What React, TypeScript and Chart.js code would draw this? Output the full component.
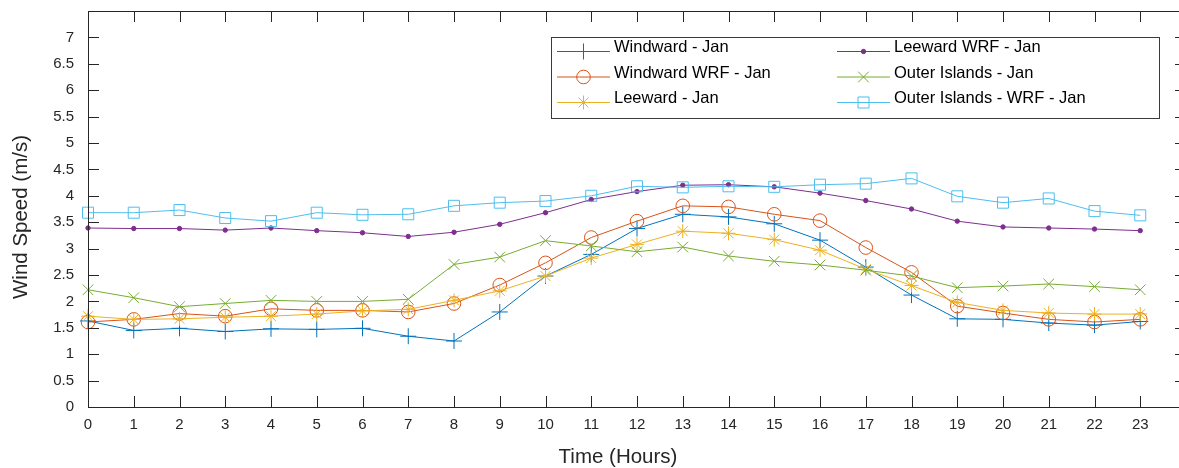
import React, { useEffect, useRef } from 'react';
import { Chart, registerables } from 'chart.js';
import { drawPoint } from 'chart.js/helpers';

Chart.register(...registerables);

const hours = [0, 1, 2, 3, 4, 5, 6, 7, 8, 9, 10, 11, 12, 13, 14, 15, 16, 17, 18, 19, 20, 21, 22, 23];
const yTicks = [0, 0.5, 1, 1.5, 2, 2.5, 3, 3.5, 4, 4.5, 5, 5.5, 6, 6.5, 7, 7.5];

const windward = [1.63, 1.45, 1.49, 1.43, 1.48, 1.47, 1.49, 1.34, 1.25, 1.80, 2.48, 2.89, 3.38, 3.65, 3.60, 3.47, 3.16, 2.65, 2.12, 1.67, 1.66, 1.59, 1.55, 1.62];
const windwardWRF = [1.61, 1.66, 1.77, 1.72, 1.86, 1.83, 1.83, 1.80, 1.96, 2.31, 2.73, 3.21, 3.52, 3.81, 3.79, 3.65, 3.53, 3.02, 2.55, 1.91, 1.78, 1.66, 1.61, 1.66];
const leeward = [1.72, 1.66, 1.67, 1.70, 1.72, 1.76, 1.82, 1.85, 2.02, 2.20, 2.48, 2.82, 3.08, 3.33, 3.29, 3.17, 2.97, 2.61, 2.30, 1.98, 1.83, 1.78, 1.76, 1.76];
const leewardWRF = [3.39, 3.38, 3.38, 3.35, 3.39, 3.34, 3.30, 3.23, 3.31, 3.46, 3.68, 3.93, 4.08, 4.20, 4.21, 4.17, 4.05, 3.91, 3.75, 3.52, 3.41, 3.39, 3.37, 3.34];
const outerIslands = [2.22, 2.07, 1.90, 1.96, 2.02, 2.00, 2.00, 2.04, 2.70, 2.84, 3.15, 3.05, 2.94, 3.03, 2.86, 2.76, 2.69, 2.59, 2.48, 2.26, 2.29, 2.33, 2.28, 2.22];
const outerIslandsWRF = [3.68, 3.68, 3.73, 3.58, 3.52, 3.68, 3.64, 3.65, 3.81, 3.87, 3.90, 4.00, 4.18, 4.16, 4.18, 4.17, 4.21, 4.23, 4.33, 3.99, 3.87, 3.95, 3.71, 3.63];

const seriesNames = [
  'Windward - Jan',
  'Windward WRF - Jan',
  'Leeward - Jan',
  'Leeward WRF - Jan',
  'Outer Islands - Jan',
  'Outer Islands - WRF - Jan',
];
const seriesValues = [windward, windwardWRF, leeward, leewardWRF, outerIslands, outerIslandsWRF];
const seriesColors = ['#0072BD', '#D95319', '#EDB120', '#7E2F8E', '#77AC30', '#4DBEEE'];
const seriesMarkers = ['cross', 'circle', 'star', 'circle', 'crossRot', 'rect'];
const seriesMarkerRadius = [8, 6.8, 7, 2.2, 7.5, 7.8];
const seriesMarkerFilled = [false, false, false, true, false, false];

const xTitle = 'Time (Hours)';
const yTitle = 'Wind Speed (m/s)';

const FONT = '"Liberation Sans", Arial, Helvetica, sans-serif';
const AXIS_COLOR = '#262626';

const decorPlugin = {
  id: 'decor',
  afterDraw(chart: any) {
    const { ctx, chartArea: a, scales } = chart;
    const xs = scales.x;
    const ys = scales.y;
    ctx.save();
    ctx.strokeStyle = AXIS_COLOR;
    ctx.lineWidth = 1;
    // axes box (its right side falls just outside the visible picture, as in the original)
    ctx.beginPath();
    ctx.rect(Math.round(a.left) + 0.5, Math.round(a.top) + 0.5, Math.round(a.right - a.left), Math.round(a.bottom - a.top));
    ctx.stroke();
    // inward ticks
    const tl = 11;
    ctx.beginPath();
    for (const h of hours) {
      const px = Math.round(xs.getPixelForValue(h)) + 0.5;
      ctx.moveTo(px, a.bottom);
      ctx.lineTo(px, a.bottom - tl);
      ctx.moveTo(px, a.top);
      ctx.lineTo(px, a.top + tl);
    }
    for (const v of yTicks) {
      const py = Math.round(ys.getPixelForValue(v)) + 0.5;
      ctx.moveTo(a.left, py);
      ctx.lineTo(a.left + tl, py);
      ctx.moveTo(a.right, py);
      ctx.lineTo(a.right - tl, py);
    }
    ctx.stroke();

    // axis titles
    ctx.fillStyle = AXIS_COLOR;
    ctx.font = `20.5px ${FONT}`;
    ctx.textAlign = 'center';
    ctx.textBaseline = 'middle';
    ctx.fillText(xTitle, 618, 457);
    ctx.save();
    ctx.translate(21, 217);
    ctx.rotate(-Math.PI / 2);
    ctx.fillText(yTitle, 0, 0);
    ctx.restore();

    // legend
    const bx = 551;
    const by = 37;
    const bw = 608;
    const bh = 81;
    ctx.fillStyle = '#ffffff';
    ctx.fillRect(bx, by, bw, bh);
    ctx.strokeStyle = '#3a3a3a';
    ctx.lineWidth = 1;
    ctx.strokeRect(bx + 0.5, by + 0.5, bw, bh);
    const colSample = [[557, 610], [837, 890]];
    const colText = [614, 894];
    const rows = [51.5, 77, 102.5];
    ctx.font = `16.5px ${FONT}`;
    ctx.textAlign = 'left';
    ctx.textBaseline = 'middle';
    for (let i = 0; i < seriesNames.length; i++) {
      const col = Math.floor(i / 3);
      const row = i % 3;
      const y = rows[row];
      const [x0, x1] = colSample[col];
      const color = seriesColors[i];
      ctx.strokeStyle = color;
      ctx.lineWidth = 1;
      ctx.beginPath();
      ctx.moveTo(x0, y);
      ctx.lineTo(x1, y);
      ctx.stroke();
      ctx.fillStyle = seriesMarkerFilled[i] ? color : 'rgba(0,0,0,0)';
      drawPoint(ctx, {
        pointStyle: seriesMarkers[i],
        radius: seriesMarkerRadius[i],
        rotation: 0,
        borderWidth: 1,
      } as any, (x0 + x1) / 2, y);
      ctx.fillStyle = '#000000';
      ctx.fillText(seriesNames[i], colText[col], y - 4);
    }
    ctx.restore();
  },
};

export default function App() {
  const canvasRef = useRef<HTMLCanvasElement | null>(null);

  useEffect(() => {
    document.body.style.margin = '0';
    const canvas = canvasRef.current;
    if (!canvas) return;
    const datasets = seriesNames.map((name, i) => ({
      label: name,
      data: seriesValues[i].map((v, j) => ({ x: hours[j], y: v })),
      borderColor: seriesColors[i],
      backgroundColor: seriesColors[i],
      borderWidth: 1,
      pointStyle: seriesMarkers[i] as any,
      pointRadius: seriesMarkerRadius[i],
      pointHoverRadius: seriesMarkerRadius[i],
      pointBorderWidth: 1,
      pointBorderColor: seriesColors[i],
      pointBackgroundColor: seriesMarkerFilled[i] ? seriesColors[i] : 'rgba(0,0,0,0)',
      tension: 0,
      fill: false,
      clip: false as any,
      order: seriesNames.length - 1 - i,
    }));

    const chart = new Chart(canvas, {
      type: 'line',
      data: { datasets },
      options: {
        animation: false,
        responsive: false,
        maintainAspectRatio: false,
        devicePixelRatio: 1,
        layout: { padding: { top: 11, right: 0, left: 0, bottom: 0 } },
        plugins: {
          legend: { display: false },
          tooltip: { enabled: false },
          title: { display: false },
        },
        scales: {
          x: {
            type: 'linear',
            min: 0,
            max: 24,
            afterBuildTicks: (s: any) => {
              s.ticks = hours.map((v) => ({ value: v }));
            },
            afterFit: (s: any) => {
              s.height = 61;
              s.paddingLeft = 0;
              s.paddingRight = 0;
            },
            ticks: {
              autoSkip: false,
              maxRotation: 0,
              minRotation: 0,
              padding: 9,
              color: AXIS_COLOR,
              font: { family: FONT, size: 15 },
              callback: (v: any) => String(v),
            },
            grid: { display: false, drawTicks: false },
            border: { display: false },
          },
          y: {
            type: 'linear',
            min: 0,
            max: 7.5,
            afterBuildTicks: (s: any) => {
              s.ticks = yTicks.map((v) => ({ value: v }));
            },
            afterFit: (s: any) => {
              s.width = 88;
              s.paddingTop = 0;
              s.paddingBottom = 0;
            },
            ticks: {
              autoSkip: false,
              padding: 14,
              color: AXIS_COLOR,
              font: { family: FONT, size: 15 },
              callback: (v: any) => (Number(v) >= 7.5 ? '' : String(v)),
            },
            grid: { display: false, drawTicks: false },
            border: { display: false },
          },
        },
      },
      plugins: [decorPlugin],
    });
    return () => {
      chart.destroy();
    };
  }, []);

  return (
    <div
      style={{
        position: 'fixed',
        left: 0,
        top: 0,
        width: 1179,
        height: 468,
        overflow: 'hidden',
        background: '#ffffff',
      }}
    >
      <canvas ref={canvasRef} width={1195} height={468} style={{ width: 1195, height: 468, display: 'block' }} />
    </div>
  );
}
